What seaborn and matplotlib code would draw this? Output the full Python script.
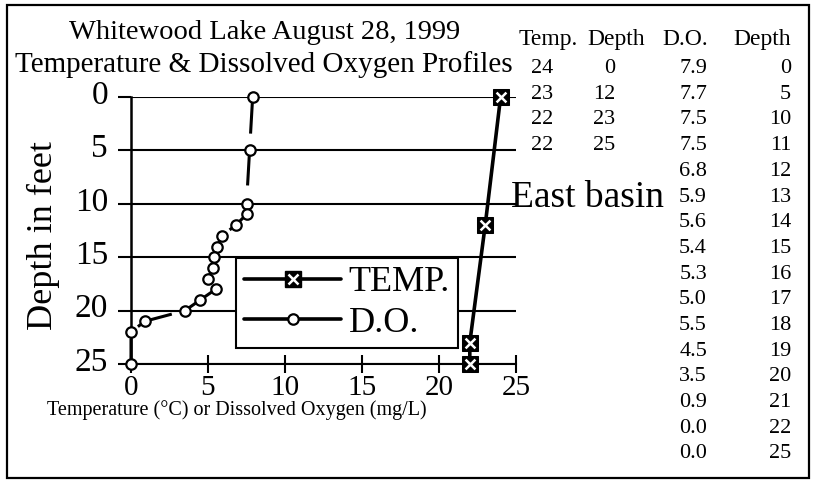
import numpy as np
import pandas as pd
import matplotlib
matplotlib.use('Agg')
import matplotlib.pyplot as plt
import seaborn as sns
from matplotlib.lines import Line2D
from matplotlib.patches import Rectangle
from matplotlib.legend_handler import HandlerTuple
from matplotlib.transforms import ScaledTranslation

# ---------------- data ----------------
temp_values = [24, 23, 22, 22]
temp_depths = [0, 12, 23, 25]
do_values = [7.9, 7.7, 7.5, 7.5, 6.8, 5.9, 5.6, 5.4, 5.3, 5.0, 5.5, 4.5, 3.5, 0.9, 0.0, 0.0]
do_depths = [0, 5, 10, 11, 12, 13, 14, 15, 16, 17, 18, 19, 20, 21, 22, 25]
x_ticks = [0, 5, 10, 15, 20, 25]
y_ticks = [0, 5, 10, 15, 20, 25]
title_lines = ["Whitewood Lake August 28, 1999", "Temperature & Dissolved Oxygen Profiles"]
table_headers = ["Temp.", "Depth", "D.O.", "Depth"]
basin_label = "East basin"
legend_labels = ["TEMP.", "D.O."]
x_label = "Temperature (\u00b0C) or Dissolved Oxygen (mg/L)"
y_label = "Depth in feet"

# ---------------- style ----------------
sns.set_theme(style='white')
plt.rcParams['font.family'] = ['Liberation Serif', 'DejaVu Serif']
for k in ['text.color', 'axes.labelcolor', 'xtick.color', 'ytick.color', 'axes.edgecolor']:
    plt.rcParams[k] = 'black'

W, H = 814, 482
fig = plt.figure(figsize=(W / 100, H / 100), dpi=100)
fig.patch.set_facecolor('white')


def fx(x):
    return x / W


def fy(y):
    return 1 - y / H


ax = fig.add_axes([fx(131), fy(364), (516 - 131) / W, (364 - 97) / H])
ax.set_facecolor('white')

temp_df = pd.DataFrame({'value': temp_values, 'depth': temp_depths})
do_df = pd.DataFrame({'value': do_values, 'depth': do_depths})

# D.O. profile (dashed, open circles)
sns.lineplot(data=do_df, x='value', y='depth', sort=False, estimator=None, ax=ax,
             color='black', lw=2.2, marker='o', markersize=7.5,
             markerfacecolor='white', markeredgecolor='black', markeredgewidth=1.6,
             zorder=4)
do_line = ax.lines[-1]
do_line.set_linestyle((0, (12, 5)))

# Temperature profile (solid, black squares with white x)
sns.lineplot(data=temp_df, x='value', y='depth', sort=False, estimator=None, ax=ax,
             color='black', lw=2.6, marker='s', markersize=11.5,
             markerfacecolor='black', markeredgecolor='black', zorder=5)
sns.scatterplot(data=temp_df, x='value', y='depth', ax=ax, marker='x', color='white',
                s=50, linewidth=1.8, zorder=6, legend=False)

for ln in ax.lines:
    ln.set_clip_on(False)
for c in ax.collections:
    c.set_clip_on(False)

ax.set_xlim(0, 25)
ax.set_ylim(25, 0)
ax.set_xticks(x_ticks)
ax.set_yticks(y_ticks)
ax.set_xticklabels([str(v) for v in x_ticks])
ax.set_yticklabels([str(v) for v in y_ticks])
ax.set_xlabel('')
ax.set_ylabel('')

ax.yaxis.grid(True, color='black', lw=1.5)
ax.xaxis.grid(False)
ax.set_axisbelow(True)

for s in ['top', 'right']:
    ax.spines[s].set_visible(False)
ax.spines['left'].set_linewidth(1.8)
ax.spines['bottom'].set_linewidth(1.5)

ax.tick_params(axis='y', direction='out', length=9.5, width=1.5, labelsize=24, pad=7, left=True)
ax.tick_params(axis='x', direction='inout', length=13, width=1.5, labelsize=21, pad=1.5, bottom=True)
for lab in ax.get_yticklabels():
    lab.set_transform(lab.get_transform() + ScaledTranslation(0, 5 / 100, fig.dpi_scale_trans))

# legend
temp_handle = (Line2D([], [], color='black', lw=2.6, marker='s', ms=11.5, mfc='black', mec='black'),
               Line2D([], [], ls='none', marker='x', ms=7, mec='white', mew=1.8))
do_handle = Line2D([], [], color='black', lw=2.6, marker='o', ms=7.5, mfc='white', mec='black', mew=1.6)
leg = ax.legend([temp_handle, do_handle], legend_labels,
                handler_map={tuple: HandlerTuple(ndivide=1)},
                loc='upper left', bbox_to_anchor=(fx(236), fy(258)),
                bbox_transform=fig.transFigure, borderaxespad=0, fontsize=26,
                handlelength=2.7, handletextpad=0.2, borderpad=0.22, labelspacing=0.2,
                frameon=True, fancybox=False, framealpha=1, edgecolor='black')
leg.get_frame().set_linewidth(1.5)
leg.set_zorder(10)

# axis labels
fig.text(fx(43), fy(235), y_label, rotation=90, ha='center', va='center', fontsize=26)
fig.text(fx(237), fy(410), x_label, ha='center', va='center', fontsize=14.5)

# titles
fig.text(fx(265), fy(39), title_lines[0], ha='center', va='baseline', fontsize=20.5)
fig.text(fx(264), fy(72), title_lines[1], ha='center', va='baseline', fontsize=21)

# data table
header_x = [519, 587, 662, 733]
for hx, ht in zip(header_x, table_headers):
    fig.text(fx(hx), fy(45), ht, ha='left', va='baseline', fontsize=17)

row0, step = 73, 25.7
for i, (tv, td) in enumerate(zip(temp_values, temp_depths)):
    yb = row0 + i * step
    fig.text(fx(553), fy(yb), f"{tv:d}", ha='right', va='baseline', fontsize=16)
    fig.text(fx(615), fy(yb), f"{td:d}", ha='right', va='baseline', fontsize=16)
for i, (dv, dd) in enumerate(zip(do_values, do_depths)):
    yb = row0 + i * step
    fig.text(fx(707), fy(yb), f"{dv:.1f}", ha='right', va='baseline', fontsize=16)
    fig.text(fx(791), fy(yb), f"{dd:d}", ha='right', va='baseline', fontsize=16)

fig.text(fx(511), fy(207), basin_label, ha='left', va='baseline', fontsize=27)

# outer frame
fig.add_artist(Rectangle((fx(7), fy(478)), (809 - 7) / W, (478 - 5) / H,
                         transform=fig.transFigure, fill=False, lw=1.6, edgecolor='black'))

fig.savefig('out.png', dpi=100, facecolor='white')
